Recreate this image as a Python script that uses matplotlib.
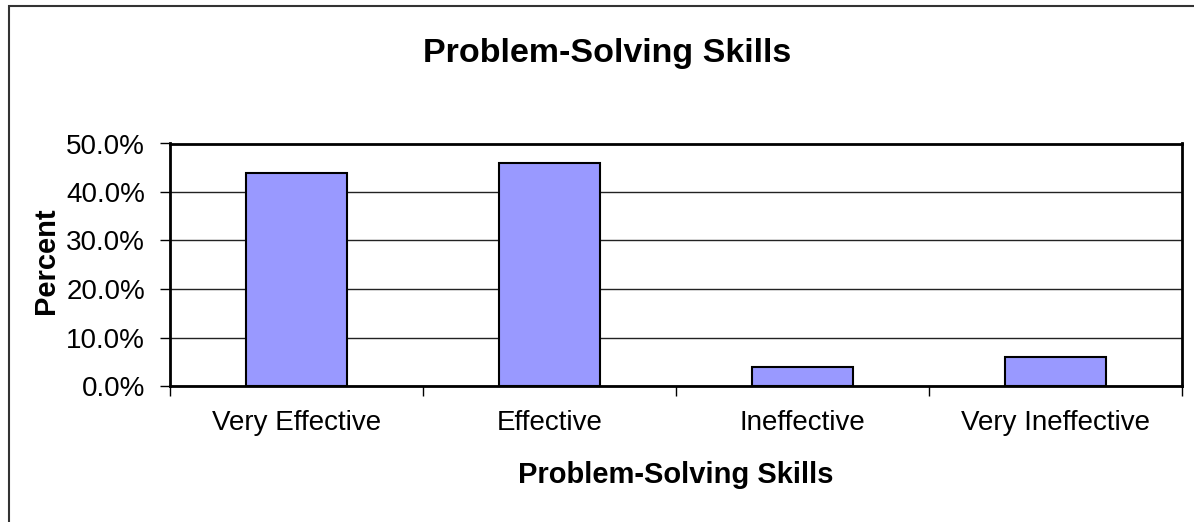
import matplotlib.pyplot as plt
from matplotlib.patches import Rectangle
from matplotlib.ticker import FuncFormatter

categories = ['Very Effective', 'Effective', 'Ineffective', 'Very Ineffective']
percents = [44.0, 46.0, 4.0, 6.0]
yticks = [0, 10, 20, 30, 40, 50]

plt.rcParams['font.family'] = ['Liberation Sans', 'DejaVu Sans']

W, H = 1194, 522
fig = plt.figure(figsize=(W / 100, H / 100), dpi=100)

# outer chart border (cropped at right and bottom in the original)
fig.patches.append(Rectangle((9 / W, -0.1), 2, (H - 6) / H + 0.1, transform=fig.transFigure,
                             fill=False, edgecolor='#333333', linewidth=1.5))

ax = fig.add_axes([170 / W, (H - 386) / H, (1182 - 170) / W, (386 - 143.5) / H])
x = list(range(len(categories)))
ax.bar(x, percents, width=0.40, color='#9999ff', edgecolor='black', linewidth=1.5, zorder=3)

ax.set_xlim(-0.5, len(categories) - 0.5)
ax.set_ylim(0, 50)
ax.set_yticks(yticks)
ax.yaxis.set_major_formatter(FuncFormatter(lambda v, p: f'{v:.1f}%'))
ax.yaxis.grid(True, color='#222222', linewidth=1.0, zorder=0)
ax.tick_params(axis='y', direction='out', length=7, width=1, pad=11, labelsize=20)

# category boundaries as ticks, labels centred on the bars
ax.set_xticks([i - 0.5 for i in range(len(categories) + 1)])
ax.set_xticklabels([])
ax.set_xticks(x, minor=True)
ax.set_xticklabels(categories, minor=True)
ax.tick_params(axis='x', which='major', direction='out', length=7, width=1)
ax.tick_params(axis='x', which='minor', length=0, pad=17, labelsize=20)

for s in ax.spines.values():
    s.set_linewidth(2)
    s.set_color('black')

ax.set_ylabel('Percent', fontsize=21, fontweight='bold')
ax.yaxis.set_label_coords(-110 / (1182 - 170), 0.515)
ax.set_xlabel('Problem-Solving Skills', fontsize=21, fontweight='bold')
ax.xaxis.label.set_va('baseline')
ax.xaxis.set_label_coords(0.5, -(483 - 386) / (386 - 143.5))

fig.text(607 / W, 1 - 62 / H, 'Problem-Solving Skills', ha='center', va='baseline',
         fontsize=24.5, fontweight='bold')

fig.savefig('out.png', dpi=100)
